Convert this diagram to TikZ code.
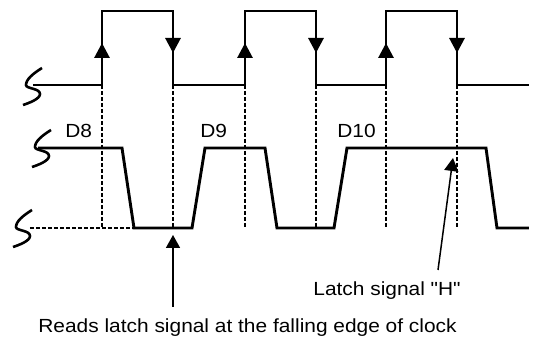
\documentclass[tikz,border=0pt]{standalone}
\usepackage{fontspec}
\setmainfont{Liberation Sans}
\newfontfamily\tlabel[FakeStretch=1.1]{Liberation Sans}
\usetikzlibrary{arrows.meta, positioning, calc}

\tikzset{
  brk/.pic={
    \draw[line width=1.3pt] (16,-17) .. controls (8,-12) and (0,-6) .. (0,0)
      .. controls (0,4) and (14,3) .. (14,9)
      .. controls (14,14) and (3,18) .. (-3,20);
  }
}

\begin{document}
\begin{tikzpicture}[
  x=0.5pt, y=-0.5pt,
  sig/.style={line width=1.45pt, line join=miter},
  edgemark/.style={line width=1.45pt, -{Triangle[width=7.5pt, length=7.5pt]}},
  guide/.style={line width=0.55pt, dash pattern=on 2pt off 1pt},
  note/.style={line width=0.75pt, -{Triangle[width=7pt, length=6.5pt]}},
  txt/.style={font=\tlabel\fontsize{9.5}{11}\selectfont, inner sep=0pt, anchor=base west}
]
\useasboundingbox (0,0) rectangle (548,342);

% Break marks
\pic at (26,85) {brk};
\pic at (35,147) {brk};
\pic at (16,227) {brk};

% Guide lines at clock edges
\draw[guide] (30,228) -- (134,228);
\foreach \x in {102,173,245,316,386,457} {
  \draw[guide] (\x,85) -- (\x,228);
}

% Clock
\draw[sig] (33,85) -- (102,85) -- (102,11) -- (173,11) -- (173,85)
  -- (245,85) -- (245,11) -- (316,11) -- (316,85)
  -- (386,85) -- (386,11) -- (457,11) -- (457,85) -- (529,85);
\foreach \x in {102,245,386} {
  \draw[edgemark] (\x,85) -- (\x,43);
}
\foreach \x in {173,316,457} {
  \draw[edgemark] (\x,11) -- (\x,53);
}

% Data
\draw[sig] (38,148) -- (122,148) -- (134,228) -- (192,228) -- (205,148)
  -- (265,148) -- (277,228) -- (334,228) -- (347,148)
  -- (486,148) -- (497,228) -- (529,228);

\node[txt] (d8) at (65,138) {D8};
\node[txt] (d9) at (200,138) {D9};
\node[txt] (d10) at (337,138) {D10};

% Annotations
\node[txt] (latchlbl) at (313,296) {Latch signal "H"};
\node[txt] (readlbl) at (38,333) {Reads latch signal at the falling edge of clock};
\coordinate (latchtail) at (438,270);
\coordinate (latchtip) at (453,158);
\coordinate (readtail) at (173,307);
\coordinate (readtip) at (173,235);
\draw[note] (latchtail) -- (latchtip);
\draw[note] (readtail) -- (readtip);

\end{tikzpicture}
\end{document}
